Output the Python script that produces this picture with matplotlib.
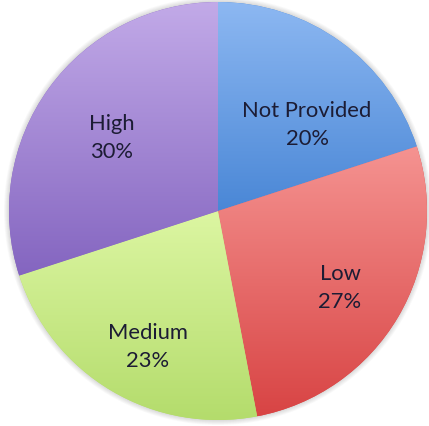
import matplotlib.pyplot as plt
import numpy as np
from matplotlib.colors import LinearSegmentedColormap

# slice data, clockwise from 12 o'clock
labels = ['Not Provided', 'Low', 'Medium', 'High']
shares = [20, 27, 23, 30]
# gradient colours per slice (top, bottom)
top_colors = ['#8db8f2', '#f59391', '#dcf6a2', '#c2aae8']
bottom_colors = ['#4a87d6', '#d84444', '#b4dc6c', '#8465c0']
# where the text sits, in units of the pie radius
label_pos = [(0.426, 0.416), (0.584, -0.364), (-0.335, -0.646), (-0.507, 0.354)]

W, H = 429, 427
cx, cy, R = 218, 212, 209

fig = plt.figure(figsize=(W / 100, H / 100), dpi=100)
ax = fig.add_axes([0, 0, 1, 1])
ax.set_aspect('equal')
ax.axis('off')

# soft shadow round the pie
for k in range(6):
    ax.add_patch(plt.Circle((0, 0), 1.0 + 0.004 * (k + 1), color='#000000',
                            alpha=0.025, lw=0, zorder=0))

wedges, _ = ax.pie(shares, startangle=90, counterclock=False, radius=1.0,
                   colors=bottom_colors, wedgeprops=dict(linewidth=0))

# vertical gradient inside each slice's box
for w, c0, c1 in zip(wedges, top_colors, bottom_colors):
    ext = w.get_path().get_extents(w.get_patch_transform())
    cmap = LinearSegmentedColormap.from_list('g', [c0, c1])
    grad = np.linspace(0, 1, 256).reshape(-1, 1)
    im = ax.imshow(grad, cmap=cmap, aspect='auto', origin='upper',
                   extent=[ext.x0, ext.x1, ext.y0, ext.y1], zorder=2)
    im.set_clip_path(w)

ax.set_xlim(-cx / R, (W - cx) / R)
ax.set_ylim(-(H - cy) / R, cy / R)

for name, pct, (x, y) in zip(labels, shares, label_pos):
    ax.text(x, y, f'{name}\n{pct}%', ha='center', va='center', fontsize=15.8,
            family='Lato', color='#1c1c34', linespacing=1.55, zorder=5)

fig.savefig('out.png', dpi=100)
